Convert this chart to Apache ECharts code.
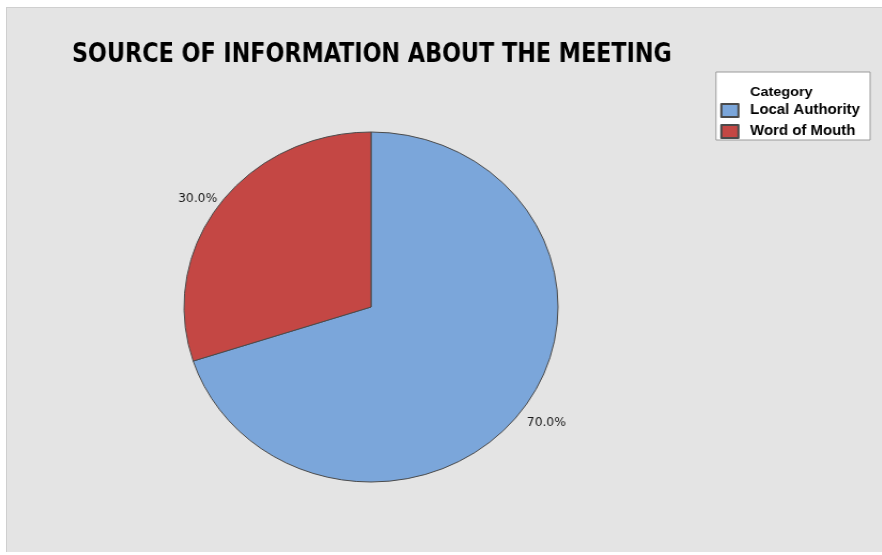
<!DOCTYPE html>
<html>
<head>
<meta charset="utf-8">
<script src="https://cdn.jsdelivr.net/npm/echarts@6/dist/echarts.min.js"></script>
<style>
  html, body { margin: 0; padding: 0; background: #ffffff; }
  #panel {
    position: absolute; left: 6px; top: 7px; width: 876px; height: 545px;
    background: #e4e4e4; border-top: 1px solid #cfcfcf; border-left: 1px solid #cfcfcf;
    box-sizing: border-box;
  }
  .layer { position: absolute; left: 0; top: 0; width: 882px; height: 555px; }
  /* Tightly set heading: squeeze the title layer a little from its left edge */
  #titleLayer { transform-origin: 72px 0; transform: scaleX(0.952); }
  /* The pie is drawn slightly wider than tall, so its layer is stretched horizontally around the pie centre */
  #pieLayer { transform-origin: 371px 307px; transform: scaleX(1.0686); }
</style>
</head>
<body>
<div id="panel"></div>
<div id="titleLayer" class="layer"></div>
<div id="pieLayer" class="layer"></div>
<script>
const chartTitle = 'SOURCE OF INFORMATION ABOUT THE MEETING';
const legendTitle = 'Category';
const categories = ['Local Authority', 'Word of Mouth'];
const percentages = [70.0, 30.0];
const sliceColors = ['#7ba6da', '#c44744'];

const SX = 1.0686;   // horizontal stretch of the pie layer
const CX = 371;      // stretch origin (pie centre)
// convert a screen x position into the unstretched pie-layer coordinate
const px = x => CX + (x - CX) / SX;

// nudges for the percentage labels, per slice, in screen pixels
const labelNudge = [[-6, 10], [8, -2]];

// Title layer
const titleChart = echarts.init(document.getElementById('titleLayer'), null, { renderer: 'canvas' });
titleChart.setOption({
  backgroundColor: 'transparent',
  animation: false,
  title: {
    text: chartTitle,
    left: 72, top: 42, padding: 0,
    textStyle: {
      fontFamily: "'DejaVu Sans Condensed', 'DejaVu Sans', sans-serif", fontWeight: 'bold',
      fontSize: 26, color: '#000000'
    }
  }
});

// Pie layer with legend
const chart = echarts.init(document.getElementById('pieLayer'), null, { renderer: 'canvas' });
chart.setOption({
  backgroundColor: 'transparent',
  animation: false,
  title: {
    text: legendTitle,
    left: px(750), top: 85, padding: 0,
    textStyle: {
      fontFamily: 'Liberation Sans', fontWeight: 'bold',
      fontSize: 13.5, color: '#000000'
    }
  },
  legend: {
    orient: 'vertical',
    left: px(716), top: 72,
    data: categories,
    icon: 'rect',
    itemWidth: 16, itemHeight: 13, itemGap: 6,
    backgroundColor: '#ffffff',
    borderColor: '#9a9a9a', borderWidth: 1, borderRadius: 0,
    padding: [31, 9.5, 1, 4],
    textStyle: {
      fontFamily: 'Liberation Sans', fontWeight: 'bold',
      fontSize: 14, color: '#000000', padding: [0, 0, 0, 6]
    },
    selectedMode: false
  },
  series: [{
    type: 'pie',
    center: [CX, 307],
    radius: 175,
    startAngle: 90,
    clockwise: true,
    silent: true,
    itemStyle: { borderColor: '#4a4a4a', borderWidth: 1 },
    label: {
      show: true, position: 'outside',
      formatter: p => p.value.toFixed(1) + '%',
      fontFamily: 'DejaVu Sans', fontSize: 11.5, color: '#1a1a1a'
    },
    labelLine: { show: false, length: 6, length2: 0 },
    labelLayout: p => ({ dx: labelNudge[p.dataIndex][0] / SX, dy: labelNudge[p.dataIndex][1] }),
    data: categories.map((name, i) => ({
      name, value: percentages[i], itemStyle: { color: sliceColors[i] }
    }))
  }]
});
</script>
</body>
</html>
